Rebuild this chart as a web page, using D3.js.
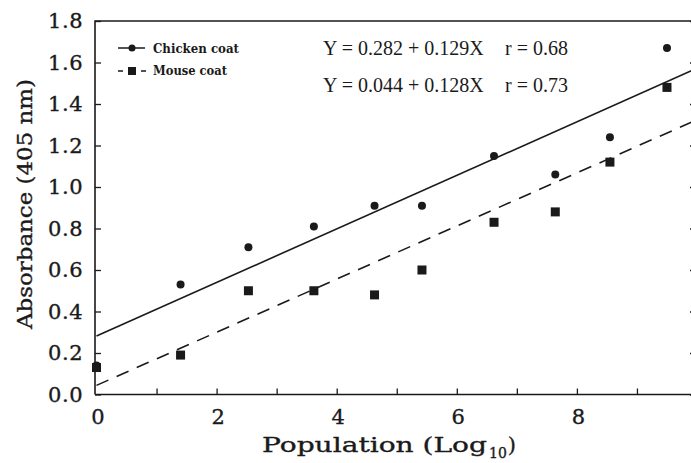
<!DOCTYPE html>
<html>
<head>
<meta charset="utf-8">
<script src="https://cdn.jsdelivr.net/npm/d3@7"></script>
<style>
  html, body { margin: 0; padding: 0; background: #fff; }
  svg { display: block; }
  .heavy { stroke: #1a1a1a; stroke-width: 0.35; }
</style>
</head>
<body>
<svg id="chart" width="691" height="463"></svg>
<script>
// Absorbance at 405 nm against population size (log10), two coat antigens
const populationLog = [0, 1.40, 2.53, 3.62, 4.63, 5.42, 6.62, 7.64, 8.55, 9.50];
const chickenAbs    = [0.14, 0.53, 0.71, 0.81, 0.91, 0.91, 1.15, 1.06, 1.24, 1.67];
const mouseAbs      = [0.13, 0.19, 0.50, 0.50, 0.48, 0.60, 0.83, 0.88, 1.12, 1.48];

// Linear fits  Y = a + bX
const seriesNames = ["Chicken coat", "Mouse coat"];
const intercepts  = [0.282, 0.044];
const slopes      = [0.129, 0.128];
const rValues     = [0.68, 0.73];

const xTickValues = [0, 1, 2, 3, 4, 5, 6, 7, 8, 9];
const xTickLabels = ["0", "", "2", "", "4", "", "6", "", "8", ""];
const yTickValues = [0, 0.2, 0.4, 0.6, 0.8, 1.0, 1.2, 1.4, 1.6, 1.8];

const svg = d3.select("#chart");
const ink = "#1a1a1a";
const serif = "'DejaVu Serif', 'Liberation Serif', serif";

const x = d3.scaleLinear().domain([0, 10]).range([96.5, 697]);
const y = d3.scaleLinear().domain([0, 1.8]).range([394.5, 21]);

const xLeft = x(0) - 1.5;
const xRight = x(10);

// frame: left, bottom, top (right side lies just past the window)
svg.append("path")
  .attr("d", `M${xLeft},${y(0)} L${xLeft},${y(1.8)} L${xRight},${y(1.8)}`)
  .attr("fill", "none").attr("stroke", ink).attr("stroke-width", 1.6);
svg.append("line")
  .attr("x1", xLeft).attr("x2", xRight).attr("y1", y(0)).attr("y2", y(0))
  .attr("stroke", ink).attr("stroke-width", 1.6);

// bottom axis, ticks pointing inward
const xAxis = d3.axisBottom(x)
  .tickValues(xTickValues)
  .tickFormat((d, i) => xTickLabels[i])
  .tickSizeInner(-6).tickSizeOuter(0).tickPadding(15);
const gx = svg.append("g").attr("transform", `translate(0,${y(0)})`).call(xAxis);
gx.select(".domain").remove();
gx.selectAll(".tick line").attr("stroke", ink).attr("stroke-width", 1.3)
  .filter(d => d === 0).remove();
gx.selectAll(".tick text")
  .attr("class", "heavy")
  .attr("font-family", serif).attr("font-size", 21)
  .attr("fill", ink).attr("dx", 1);

// left axis, ticks pointing inward
const yAxis = d3.axisLeft(y)
  .tickValues(yTickValues)
  .tickFormat(d3.format(".1f"))
  .tickSizeInner(-6).tickSizeOuter(0).tickPadding(12);
const gy = svg.append("g").attr("transform", `translate(${xLeft},0)`).call(yAxis);
gy.select(".domain").remove();
gy.selectAll(".tick line").attr("stroke", ink).attr("stroke-width", 1.3);
gy.selectAll(".tick text")
  .attr("class", "heavy")
  .attr("font-family", serif).attr("font-size", 21)
  .attr("letter-spacing", 0.5).attr("fill", ink);

// right axis ticks (inward)
const gr = svg.append("g").attr("transform", `translate(${xRight},0)`)
  .call(d3.axisRight(y).tickValues(yTickValues).tickFormat("").tickSizeInner(-7).tickSizeOuter(0));
gr.select(".domain").remove();
gr.selectAll(".tick line").attr("stroke", ink).attr("stroke-width", 1.3);

// axis titles
svg.append("text")
  .attr("class", "heavy")
  .attr("transform", `translate(32,204) rotate(-90)`)
  .attr("text-anchor", "middle")
  .attr("font-family", serif).attr("font-size", 21)
  .attr("textLength", 250).attr("lengthAdjust", "spacingAndGlyphs")
  .attr("fill", ink)
  .text("Absorbance (405 nm)");

const xt = svg.append("text")
  .attr("class", "heavy")
  .attr("x", 262).attr("y", 452)
  .attr("font-family", serif).attr("font-size", 21)
  .attr("fill", ink);
xt.append("tspan").attr("textLength", 225).attr("lengthAdjust", "spacingAndGlyphs")
  .text("Population (Log");
xt.append("tspan").attr("font-size", 14).attr("dx", 2).attr("dy", 6).text("10");
xt.append("tspan").attr("dx", 1).attr("dy", -6).text(")");

// regression lines
const dashes = [null, "13,9"];
seriesNames.forEach((name, i) => {
  const line = d3.line().x(d => x(d)).y(d => y(intercepts[i] + slopes[i] * d));
  svg.append("path")
    .datum([0, 10])
    .attr("d", line)
    .attr("fill", "none")
    .attr("stroke", ink)
    .attr("stroke-width", 1.6)
    .attr("stroke-dasharray", dashes[i]);
});

// data points
svg.append("g").selectAll("circle")
  .data(populationLog.map((p, i) => [p, chickenAbs[i]]))
  .join("circle")
  .attr("cx", d => x(d[0])).attr("cy", d => y(d[1])).attr("r", 4)
  .attr("fill", ink);

svg.append("g").selectAll("rect")
  .data(populationLog.map((p, i) => [p, mouseAbs[i]]))
  .join("rect")
  .attr("x", d => x(d[0]) - 4.5).attr("y", d => y(d[1]) - 4.5)
  .attr("width", 9).attr("height", 9)
  .attr("fill", ink);

// legend
const lg = svg.append("g").attr("font-family", serif)
  .attr("font-weight", "bold").attr("font-size", 12).attr("fill", ink);
lg.append("line").attr("x1", 118).attr("x2", 145).attr("y1", 48).attr("y2", 48)
  .attr("stroke", ink).attr("stroke-width", 1.5);
lg.append("circle").attr("cx", 132).attr("cy", 48).attr("r", 3.5).attr("fill", ink);
lg.append("text").attr("x", 153).attr("y", 53).attr("textLength", 86)
  .attr("lengthAdjust", "spacingAndGlyphs").text(seriesNames[0]);

lg.append("line").attr("x1", 118).attr("x2", 146).attr("y1", 71).attr("y2", 71)
  .attr("stroke", ink).attr("stroke-width", 1.5).attr("stroke-dasharray", "5,18,5");
lg.append("rect").attr("x", 128).attr("y", 67).attr("width", 8).attr("height", 8).attr("fill", ink);
lg.append("text").attr("x", 153).attr("y", 75).attr("textLength", 74)
  .attr("lengthAdjust", "spacingAndGlyphs").text(seriesNames[1]);

// fit equations
const eqY = [55, 92];
const fmt3 = d3.format(".3f"), fmt2 = d3.format(".2f");
seriesNames.forEach((name, i) => {
  svg.append("text")
    .attr("x", 323).attr("y", eqY[i])
    .attr("font-family", "'Liberation Serif', 'Times New Roman', serif")
    .attr("font-size", 20).attr("fill", ink)
    .text(`Y = ${fmt3(intercepts[i])} + ${fmt3(slopes[i])}X`);
  svg.append("text")
    .attr("x", 505).attr("y", eqY[i])
    .attr("font-family", "'Liberation Serif', 'Times New Roman', serif")
    .attr("font-size", 20).attr("fill", ink)
    .text(`r = ${fmt2(rValues[i])}`);
});
</script>
</body>
</html>
